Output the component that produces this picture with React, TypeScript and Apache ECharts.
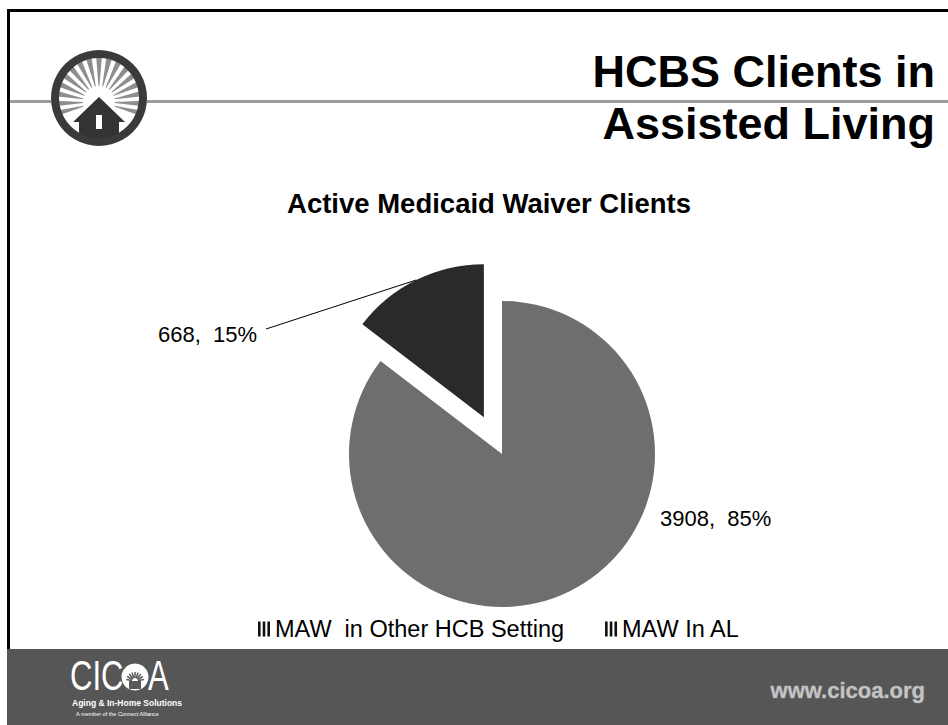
import React, { useEffect, useRef } from "react";
import * as echarts from "echarts";

// ---- data ----
const categories = ["MAW  in Other HCB Setting", "MAW In AL"];
const clientCounts = [3908, 668];
const sliceColors = ["#6e6e6e", "#2a2a2a"];
const explodedSlice = [false, true];

const slideTitleLines = ["HCBS Clients in", "Assisted Living"];
const chartTitle = "Active Medicaid Waiver Clients";
const footerUrl = "www.cicoa.org";
const footerLogoLines = ["Aging & In-Home Solutions", "A member of the Connect Alliance"];

const FONT = '"Liberation Sans", Arial, sans-serif';
const PIE_CENTER = [502, 454];
const PIE_RADIUS = 153;
const EXPLODE = 41;

function buildLogo(): any[] {
  const cx = 99;
  const cy = 98;
  const sx = 99;
  const sy = 102;
  const els: any[] = [];
  els.push({ type: "circle", shape: { cx, cy, r: 48 }, style: { fill: "#ffffff" }, z: 1 });
  const n = 17;
  for (let k = 0; k < n; k++) {
    const deg = -195 + (k * 210) / (n - 1);
    const a = (deg * Math.PI) / 180;
    const w1 = (1.6 * Math.PI) / 180;
    const w2 = (3.6 * Math.PI) / 180;
    const r1 = 16;
    const r2 = 44;
    els.push({
      type: "polygon",
      z: 2,
      shape: {
        points: [
          [sx + r1 * Math.cos(a - w1), sy + r1 * Math.sin(a - w1)],
          [sx + r2 * Math.cos(a - w2), sy + r2 * Math.sin(a - w2)],
          [sx + r2 * Math.cos(a + w2), sy + r2 * Math.sin(a + w2)],
          [sx + r1 * Math.cos(a + w1), sy + r1 * Math.sin(a + w1)],
        ],
      },
      style: { fill: "#8e8e8e" },
    });
  }
  els.push({
    type: "polygon",
    z: 3,
    shape: {
      points: [
        [99, 97],
        [125, 122],
        [119, 122],
        [119, 140],
        [79, 140],
        [79, 122],
        [73, 122],
      ],
    },
    style: { fill: "#333333" },
  });
  els.push({ type: "rect", z: 4, shape: { x: 96, y: 115, width: 6, height: 14 }, style: { fill: "#ffffff" } });
  els.push({ type: "ring", z: 5, shape: { cx, cy, r: 48, r0: 40 }, style: { fill: "#3a3a3a" } });
  return els;
}

function buildFooterLogo(): any[] {
  const els: any[] = [];
  els.push({
    type: "text",
    z: 6,
    x: 70,
    y: 676,
    scaleX: 0.74,
    style: { text: "CIC", font: `42px ${FONT}`, fill: "#ffffff", verticalAlign: "middle", textVerticalAlign: "middle" },
  });
  els.push({ type: "circle", z: 6, shape: { cx: 135, cy: 677, r: 13.5 }, style: { fill: "#ffffff" } });
  for (let k = 0; k < 9; k++) {
    const a = ((-170 + k * 20) * Math.PI) / 180;
    els.push({
      type: "line",
      z: 7,
      shape: { x1: 135 + 3 * Math.cos(a), y1: 681 + 3 * Math.sin(a), x2: 135 + 9 * Math.cos(a), y2: 681 + 9 * Math.sin(a) },
      style: { stroke: "#5a5a5a", lineWidth: 1.5 },
    });
  }
  els.push({ type: "rect", z: 7, shape: { x: 129, y: 681, width: 12, height: 8 }, style: { fill: "#5a5a5a" } });
  els.push({
    type: "text",
    z: 6,
    x: 148,
    y: 676,
    scaleX: 0.74,
    style: { text: "A", font: `42px ${FONT}`, fill: "#ffffff", verticalAlign: "middle", textVerticalAlign: "middle" },
  });
  els.push({
    type: "text",
    z: 6,
    x: 72,
    y: 703,
    style: { text: footerLogoLines[0], font: `bold 8.5px ${FONT}`, fill: "#ffffff", verticalAlign: "middle", textVerticalAlign: "middle" },
  });
  els.push({
    type: "text",
    z: 6,
    x: 76,
    y: 714,
    style: { text: footerLogoLines[1], font: `5.5px ${FONT}`, fill: "#ffffff", verticalAlign: "middle", textVerticalAlign: "middle" },
  });
  return els;
}

export default function App() {
  const ref = useRef<HTMLDivElement>(null);

  useEffect(() => {
    if (!ref.current) return;
    const chart = echarts.init(ref.current, undefined, { renderer: "svg" });

    const total = clientCounts.reduce((a, b) => a + b, 0);
    const labelFmt = (p: any) => `${p.value},  ${Math.round(p.percent)}%`;
    const labelBase = { fontSize: 22, fontFamily: FONT, color: "#000" };

    // one pie per "layer": base layer (non-exploded slices), exploded layer (shifted centre)
    const makeSeries = (exploded: boolean) => {
      let offsetX = 0;
      let offsetY = 0;
      if (exploded) {
        let before = 0;
        for (let i = 0; i < clientCounts.length; i++) {
          if (explodedSlice[i]) {
            const mid = ((before + clientCounts[i] / 2) / total) * Math.PI * 2;
            offsetX = EXPLODE * Math.sin(mid);
            offsetY = -EXPLODE * Math.cos(mid);
          }
          before += clientCounts[i];
        }
      }
      const data = categories.map((name, i) => {
        const visible = explodedSlice[i] === exploded;
        return {
          name,
          value: clientCounts[i],
          itemStyle: { color: visible ? sliceColors[i] : "rgba(0,0,0,0)" },
          label: { show: visible },
          labelLine: { show: visible && exploded },
        };
      });
      return {
        type: "pie",
        center: [PIE_CENTER[0] + offsetX, PIE_CENTER[1] + offsetY],
        radius: PIE_RADIUS,
        startAngle: 90,
        clockwise: true,
        silent: true,
        avoidLabelOverlap: false,
        emphasis: { disabled: true },
        itemStyle: { borderWidth: 0 },
        z: exploded ? 3 : 2,
        data,
        label: { show: true, position: "outside", formatter: labelFmt, ...labelBase },
        labelLine: { show: true, lineStyle: { color: "#000", width: 1 } },
        labelLayout: (params: any) => {
          if (exploded) {
            const pts = params.labelLinePoints;
            const start = pts && pts[0] ? pts[0] : [414, 282];
            return {
              x: 257,
              y: 334,
              align: "right",
              verticalAlign: "middle",
              labelLinePoints: [start, start, [266, 329]],
            };
          }
          return { x: 660, y: 518, align: "left", verticalAlign: "middle" };
        },
      };
    };

    const option: any = {
      animation: false,
      backgroundColor: "#ffffff",
      title: {
        text: chartTitle,
        left: 489,
        top: 189,
        textAlign: "center",
        padding: 0,
        textStyle: { fontSize: 27.5, fontWeight: "bold", fontFamily: FONT, color: "#000" },
      },
      legend: {
        left: 258,
        top: 617,
        padding: 0,
        itemWidth: 12,
        itemHeight: 15,
        itemGap: 41,
        icon: "path://M0,0h2.6v15h-2.6zM4.7,0h2.6v15h-2.6zM9.4,0h2.6v15h-2.6z",
        data: categories.map((name) => ({ name, itemStyle: { color: "#111111" } })),
        textStyle: { fontSize: 23.5, fontFamily: FONT, color: "#000" },
        selectedMode: false,
      },
      graphic: {
        elements: [
          { type: "rect", shape: { x: 7, y: 9, width: 941, height: 3 }, style: { fill: "#000" }, z: 1 },
          { type: "rect", shape: { x: 7, y: 9, width: 3, height: 642 }, style: { fill: "#000" }, z: 1 },
          { type: "rect", shape: { x: 10, y: 100, width: 938, height: 3 }, style: { fill: "#9c9c9c" }, z: 0 },
          {
            type: "text",
            z: 1,
            x: 935,
            y: 71,
            style: {
              text: slideTitleLines[0],
              font: `bold 45px ${FONT}`,
              fill: "#000",
              align: "right",
              textAlign: "right",
              verticalAlign: "middle",
              textVerticalAlign: "middle",
            },
          },
          {
            type: "text",
            z: 1,
            x: 935,
            y: 123,
            style: {
              text: slideTitleLines[1],
              font: `bold 45px ${FONT}`,
              fill: "#000",
              align: "right",
              textAlign: "right",
              verticalAlign: "middle",
              textVerticalAlign: "middle",
            },
          },
          ...buildLogo(),
          { type: "rect", z: 1, shape: { x: 7, y: 649, width: 941, height: 76 }, style: { fill: "#565656" } },
          ...buildFooterLogo(),
          {
            type: "text",
            z: 6,
            x: 925,
            y: 690,
            style: {
              text: footerUrl,
              font: `bold 22px ${FONT}`,
              fill: "#c4c4c4",
              stroke: "#7a7a7a",
              lineWidth: 1,
              align: "right",
              textAlign: "right",
              verticalAlign: "middle",
              textVerticalAlign: "middle",
            },
          },
        ],
      },
      series: [makeSeries(false), makeSeries(true)],
    };

    chart.setOption(option);
    return () => chart.dispose();
  }, []);

  return (
    <div
      ref={ref}
      style={{ position: "fixed", left: 0, top: 0, width: 948, height: 725, background: "#fff" }}
    />
  );
}
